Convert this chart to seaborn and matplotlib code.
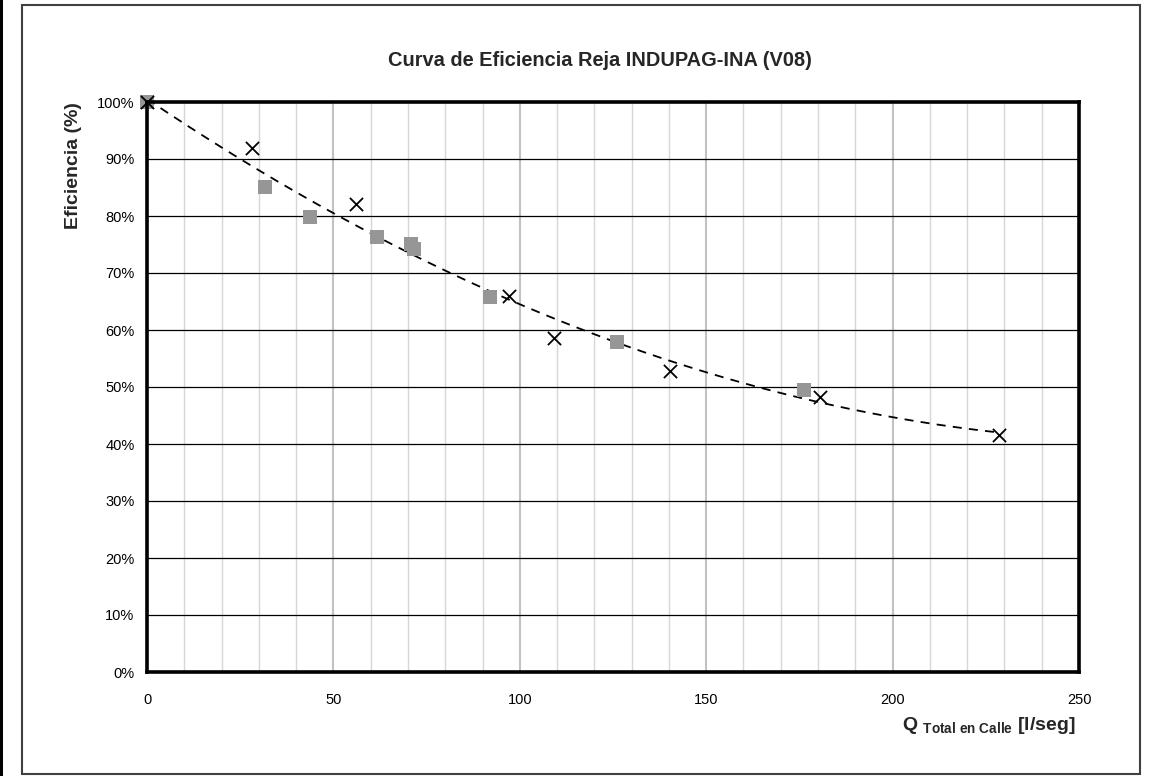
import numpy as np
import pandas as pd
import matplotlib
matplotlib.use("Agg")
import matplotlib.pyplot as plt
import seaborn as sns
from matplotlib.patches import Rectangle
from matplotlib.ticker import FuncFormatter

sns.set_theme(style="white")
plt.rcParams['font.family'] = ['Liberation Sans', 'DejaVu Sans']
plt.rcParams['mathtext.fontset'] = 'custom'
plt.rcParams['mathtext.rm'] = 'Liberation Sans'
plt.rcParams['mathtext.bf'] = 'Liberation Sans:bold'
plt.rcParams['mathtext.it'] = 'Liberation Sans:italic'

# Measured points, series 1 (grey squares)
q_sq = [0, 31.7, 43.7, 61.7, 70.8, 71.6, 92.0, 126.1, 176.2]
ef_sq = [100, 85.1, 79.8, 76.3, 75.1, 74.2, 65.8, 57.9, 49.5]

# Measured points, series 2 (black crosses)
q_x = [0, 28.2, 56.1, 97.1, 109.2, 140.3, 180.5, 228.5]
ef_x = [100, 91.9, 82.1, 66.0, 58.6, 52.8, 48.2, 41.6]

x_ticks = [0, 50, 100, 150, 200, 250]
y_ticks = [0, 10, 20, 30, 40, 50, 60, 70, 80, 90, 100]

# Quadratic trend through all measurements
q_all = np.array(q_sq + q_x)
ef_all = np.array(ef_sq + ef_x)
coef = np.polyfit(q_all, ef_all, 2)
q_fit = np.linspace(0, max(q_x), 200)
trend = pd.DataFrame({"q": q_fit, "ef": np.polyval(coef, q_fit)})

W, H = 1152, 776
fig = plt.figure(figsize=(W / 100, H / 100), dpi=100)
ax = fig.add_axes([147 / W, 1 - 672 / H, (1079 - 147) / W, (672 - 102) / H])

# Outer chart frame and left edge strip
fig.patches.append(Rectangle((22 / W, 1 - 774 / H), (1140 - 22) / W, (774 - 5) / H,
                             transform=fig.transFigure, fill=False, edgecolor="#404040",
                             linewidth=1.5, zorder=0))
fig.patches.append(Rectangle((0, 0), 2.5 / W, 1, transform=fig.transFigure,
                             facecolor="black", edgecolor="none", zorder=0))

ax.set_xlim(0, 250)
ax.set_ylim(0, 100)

# Grid
for xv in np.arange(10, 250, 10):
    major = xv % 50 == 0
    ax.axvline(xv, color="#c2c2c2" if major else "#d6d6d6",
               lw=1.5 if major else 1.0, zorder=1)
for yv in y_ticks[1:-1]:
    ax.axhline(yv, color="black", lw=0.9, zorder=1)

sns.lineplot(data=trend, x="q", y="ef", ax=ax, color="black", lw=1.3,
             linestyle=(0, (5, 4)), zorder=3)

sns.scatterplot(x=q_sq, y=ef_sq, ax=ax, marker="s", s=110, color="#969696",
                edgecolor="none", zorder=4, clip_on=False)
sns.scatterplot(x=q_x, y=ef_x, ax=ax, marker="x", s=90, color="black",
                linewidth=1.3, zorder=5, clip_on=False)

ax.set_xticks(x_ticks)
ax.set_yticks(y_ticks)
ax.yaxis.set_major_formatter(FuncFormatter(lambda v, p: f"{int(v)}%"))
ax.tick_params(axis="both", which="major", direction="out", length=6, width=1,
               color="black", labelsize=10.5, labelcolor="black")
ax.tick_params(axis="y", pad=3)
ax.tick_params(axis="x", pad=9)

for s in ax.spines.values():
    s.set_visible(True)
    s.set_color("black")
    s.set_linewidth(2.6)
    s.set_zorder(6)

ax.set_xlabel("")
ax.set_ylabel("")

fig.text(73 / W, 1 - 166 / H, "Eficiencia (%)", rotation=90, ha="center", va="center",
         fontsize=14, fontweight="bold")

fig.text(600 / W, 1 - 61 / H, "Curva de Eficiencia Reja INDUPAG-INA (V08)",
         ha="center", va="center", fontsize=14.4, fontweight="bold")

fig.text(1076 / W, 1 - 730 / H,
         r"Q $_{\mathbf{Total\ en\ Calle}}$ [l/seg]",
         ha="right", va="baseline", fontsize=14, fontweight="bold")

fig.savefig("out.png", dpi=100, facecolor="white")
